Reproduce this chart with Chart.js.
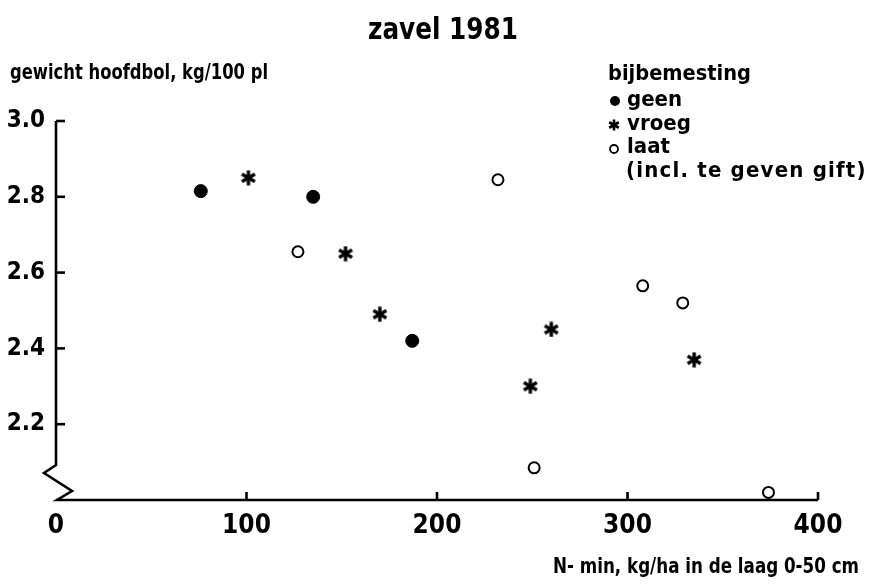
<!DOCTYPE html>
<html>
<head>
<meta charset="utf-8">
<script src="https://cdn.jsdelivr.net/npm/chart.js@4/dist/chart.umd.min.js"></script>
<style>
  body { margin: 0; background: #fff; }
</style>
</head>
<body>
<canvas id="chart" width="886" height="585"></canvas>
<script>
const FONT = '"DejaVu Sans Condensed", "DejaVu Sans", sans-serif'

// N-min (kg/ha) en gewicht hoofdbol (kg/100 pl) per bijbemesting
const geenX = [76, 135, 187]
const geenY = [2.815, 2.80, 2.42]
const vroegX = [101, 152, 170, 249, 260, 335]
const vroegY = [2.85, 2.65, 2.49, 2.30, 2.45, 2.37]
const laatX = [127, 232, 251, 308, 329, 374]
const laatY = [2.655, 2.845, 2.085, 2.565, 2.52, 2.02]

const xTicks = [0, 100, 200, 300, 400]
const yTicks = [2.2, 2.4, 2.6, 2.8, 3.0]

const toPoints = (xs, ys) => xs.map((x, i) => ({ x: x, y: ys[i] }))

// sterretje als puntstijl
const makeStar = (size, lw) => {
  const c = document.createElement('canvas')
  c.width = size
  c.height = size
  const g = c.getContext('2d')
  g.strokeStyle = '#000'
  g.lineWidth = lw
  const m = size / 2
  const r = size / 2 - 0.5
  for (let k = 0; k < 3; k++) {
    const a = Math.PI / 2 + k * Math.PI / 3
    g.beginPath()
    g.moveTo(m + r * Math.cos(a), m + r * Math.sin(a))
    g.lineTo(m - r * Math.cos(a), m - r * Math.sin(a))
    g.stroke()
  }
  return c
}
const starBig = makeStar(16, 3.4)
const starSmall = makeStar(12, 2.6)

const line = (ctx, x1, y1, x2, y2) => {
  ctx.beginPath()
  ctx.moveTo(x1, y1)
  ctx.lineTo(x2, y2)
  ctx.stroke()
}

// assen met onderbroken y-as, streepjes naar binnen
const axesPlugin = {
  id: 'axes',
  beforeDatasetsDraw(chart) {
    const { ctx, scales: { x, y } } = chart
    const x0 = x.getPixelForValue(0)
    const x1 = x.getPixelForValue(400)
    const yb = y.getPixelForValue(2.0)
    const yt = y.getPixelForValue(3.0)
    ctx.save()
    ctx.strokeStyle = '#000'
    ctx.lineWidth = 2.6
    ctx.beginPath()
    ctx.moveTo(x0, yt)
    ctx.lineTo(x0, yb - 35)
    ctx.lineTo(x0 - 12, yb - 27)
    ctx.lineTo(x0 + 16, yb - 9)
    ctx.lineTo(x0 + 1, yb)
    ctx.lineTo(x1, yb)
    ctx.stroke()
    yTicks.forEach(v => {
      const py = y.getPixelForValue(v)
      line(ctx, x0, py, x0 + 9, py)
    })
    xTicks.slice(1).forEach(v => {
      const px = x.getPixelForValue(v)
      line(ctx, px, yb, px, yb - 8)
    })
    ctx.restore()
  }
}

// titels en legenda
const textPlugin = {
  id: 'texts',
  afterDraw(chart) {
    const ctx = chart.ctx
    ctx.save()
    ctx.fillStyle = '#000'
    ctx.textBaseline = 'middle'

    ctx.font = 'bold 30px ' + FONT
    ctx.textAlign = 'center'
    ctx.fillText('zavel 1981', 443, 31, 150)

    ctx.font = 'bold 21px ' + FONT
    ctx.textAlign = 'left'
    ctx.fillText('gewicht hoofdbol, kg/100 pl', 10, 74, 258)

    ctx.textAlign = 'right'
    ctx.fillText('N- min, kg/ha in de laag 0-50 cm', 859, 568, 306)

    ctx.font = 'bold 22px ' + FONT
    ctx.textAlign = 'left'
    ctx.fillText('bijbemesting', 608, 74, 143)
    ctx.fillText('geen', 627, 100, 58)
    ctx.fillText('vroeg', 627, 124, 68)
    ctx.fillText('laat', 627, 147, 44)
    ctx.letterSpacing = '1.2px'
    ctx.fillText('(incl. te geven gift)', 626, 171, 258)
    ctx.letterSpacing = '0px'

    // legendatekens
    ctx.beginPath()
    ctx.arc(615, 101, 5, 0, Math.PI * 2)
    ctx.fill()
    ctx.drawImage(starSmall, 614 - 6, 125 - 6)
    ctx.strokeStyle = '#000'
    ctx.lineWidth = 1.8
    ctx.beginPath()
    ctx.arc(614, 149, 4, 0, Math.PI * 2)
    ctx.stroke()
    ctx.restore()
  }
}

new Chart(document.getElementById('chart'), {
  type: 'scatter',
  data: {
    datasets: [
      {
        label: 'geen',
        data: toPoints(geenX, geenY),
        pointStyle: 'circle',
        pointRadius: 6.5,
        backgroundColor: '#000',
        borderColor: '#000',
        borderWidth: 1
      },
      {
        label: 'vroeg',
        data: toPoints(vroegX, vroegY),
        pointStyle: starBig,
        pointRadius: 7,
        backgroundColor: '#000',
        borderColor: '#000'
      },
      {
        label: 'laat',
        data: toPoints(laatX, laatY),
        pointStyle: 'circle',
        pointRadius: 5.5,
        backgroundColor: '#fff',
        borderColor: '#000',
        borderWidth: 2
      }
    ]
  },
  options: {
    responsive: false,
    animation: false,
    devicePixelRatio: 1,
    clip: false,
    layout: {
      padding: { top: 121, right: 68, left: 0, bottom: 0 }
    },
    plugins: {
      legend: { display: false },
      title: { display: false },
      tooltip: { enabled: false }
    },
    scales: {
      x: {
        type: 'linear',
        min: 0,
        max: 400,
        afterBuildTicks: s => { s.ticks = xTicks.map(v => ({ value: v })) },
        afterFit: s => { s.height = 85 },
        grid: { display: false, drawTicks: false },
        border: { display: false },
        ticks: {
          padding: 11,
          color: '#000',
          font: { family: FONT, size: 26, weight: 'bold' },
          callback: v => String(v)
        }
      },
      y: {
        type: 'linear',
        min: 2.0,
        max: 3.0,
        afterBuildTicks: s => { s.ticks = yTicks.map(v => ({ value: v })) },
        afterFit: s => { s.width = 56 },
        grid: { display: false, drawTicks: false },
        border: { display: false },
        ticks: {
          padding: 11,
          color: '#000',
          font: { family: FONT, size: 24, weight: 'bold' },
          callback: v => v.toFixed(1)
        }
      }
    }
  },
  plugins: [axesPlugin, textPlugin]
})
</script>
</body>
</html>
